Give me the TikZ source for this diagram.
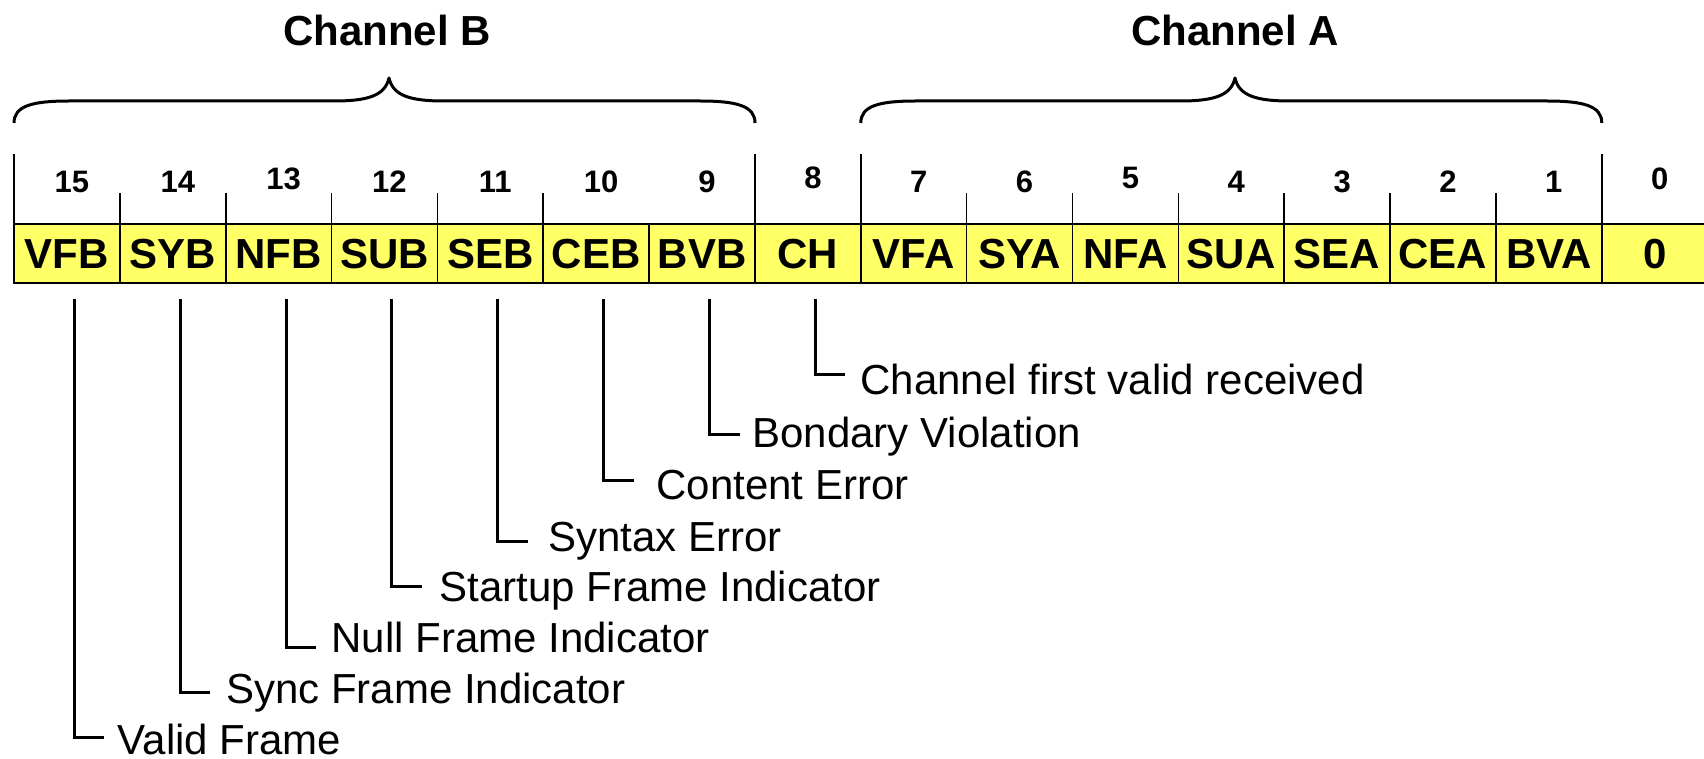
\documentclass[tikz,border=0pt]{standalone}
\usepackage{fontspec}
\setmainfont{Liberation Sans}
\definecolor{cellyellow}{RGB}{255,255,102}
\begin{document}
\begin{tikzpicture}[x=0.5pt,y=-0.5pt,
  cell/.style={draw=black, line width=0.8pt, fill=cellyellow,
    minimum width=52.925pt, minimum height=29.5pt, inner sep=0pt, outer sep=0pt,
    font=\bfseries\fontsize{21}{21}\selectfont, text height=15pt, text depth=0pt},
  bitnum/.style={font=\bfseries\fontsize{15.5}{15.5}\selectfont, inner sep=0pt,
    text height=11.1pt, text depth=0pt},
  title/.style={font=\bfseries\fontsize{21}{21}\selectfont, inner sep=0pt,
    text height=15pt, text depth=0pt},
  lbl/.style={font=\fontsize{21}{21}\selectfont, inner sep=0pt, anchor=west,
    text height=15pt, text depth=0pt},
  leader/.style={line width=1.5pt},
  bracestyle/.style={line width=1.5pt, line join=round},
  tick/.style={line width=0.8pt}]
\useasboundingbox (0,0) rectangle (1704,759);

% register cells, bit 15 on the left
\foreach \lab [count=\k from 0] in {VFB,SYB,NFB,SUB,SEB,CEB,BVB,CH,VFA,SYA,NFA,SUA,SEA,CEA,BVA,0}{
  \pgfmathtruncatemacro\b{15-\k}
  \node[cell] (c\b) at ({14+105.85*(\k+0.5)},253.5) {\lab};
}
\draw[line width=1pt] (c15.north west) rectangle (c0.south east);

% bit numbers
\foreach \b/\y [count=\k from 0] in {15/181,14/181,13/178,12/181,11/181.5,10/181.5,9/181.5,8/177.5,
                                    7/181.5,6/181.5,5/177.5,4/181.5,3/181.5,2/181.5,1/181.5,0/178}{
  \node[bitnum] (n\b) at ({14+105.85*(\k+0.5)+5},\y) {\b};
}

% separators above the register
\foreach \b in {14,13,12,11,10,2,3,4,5,6,7,1}{
  \draw[tick] (c\b.north west) -- ++(0,-31);
}
\draw[tick] (c15.north west) -- ++(0,-70);
\draw[tick] (c9.north east) -- ++(0,-70);
\draw[tick] (c8.north east) -- ++(0,-70);
\draw[tick] (c1.north east) -- ++(0,-70);

% channel braces and titles
\draw[bracestyle] (14,123) .. controls (14,106) and (32,101) .. (69,101)
  -- (334,101) .. controls (367,101) and (385,96) .. (389,78)
  .. controls (393,96) and (411,101) .. (444,101)
  -- (700,101) .. controls (737,101) and (755,106) .. (755,123);
\draw[bracestyle] (860.8,123) .. controls (860.8,106) and (878.8,101) .. (915.8,101)
  -- (1180,101) .. controls (1213,101) and (1231,96) .. (1235,78)
  .. controls (1239,96) and (1257,101) .. (1290,101)
  -- (1546.8,101) .. controls (1583.8,101) and (1601.8,106) .. (1601.8,123);
\node[title] (tB) at (387,31) {Channel B};
\node[title] (tA) at (1235,31) {Channel A};

% field descriptions: bit / leader height / text x / text height / text
\foreach \b/\ly/\tx/\ty/\txt [count=\k from 0] in {
    15/737/117.5/739/Valid Frame,
    14/692/225.7/688/Sync Frame Indicator,
    13/647/331/637.5/Null Frame Indicator,
    12/586/439/586/Startup Frame Indicator,
    11/541/548/536/Syntax Error,
    10/480/656/484/Content Error,
    9/434/752/432.5/Bondary Violation,
    8/375/860/379.3/Channel first valid received}{
  \node[lbl] (l\b) at (\tx,\ty) {\txt};
  \coordinate (e\b) at ({14+105.85*(\k+0.5)+37.5},\ly);
  \draw[leader] ([xshift=3.75pt,yshift=-8pt]c\b.south) |- (e\b);
}
\end{tikzpicture}
\end{document}
